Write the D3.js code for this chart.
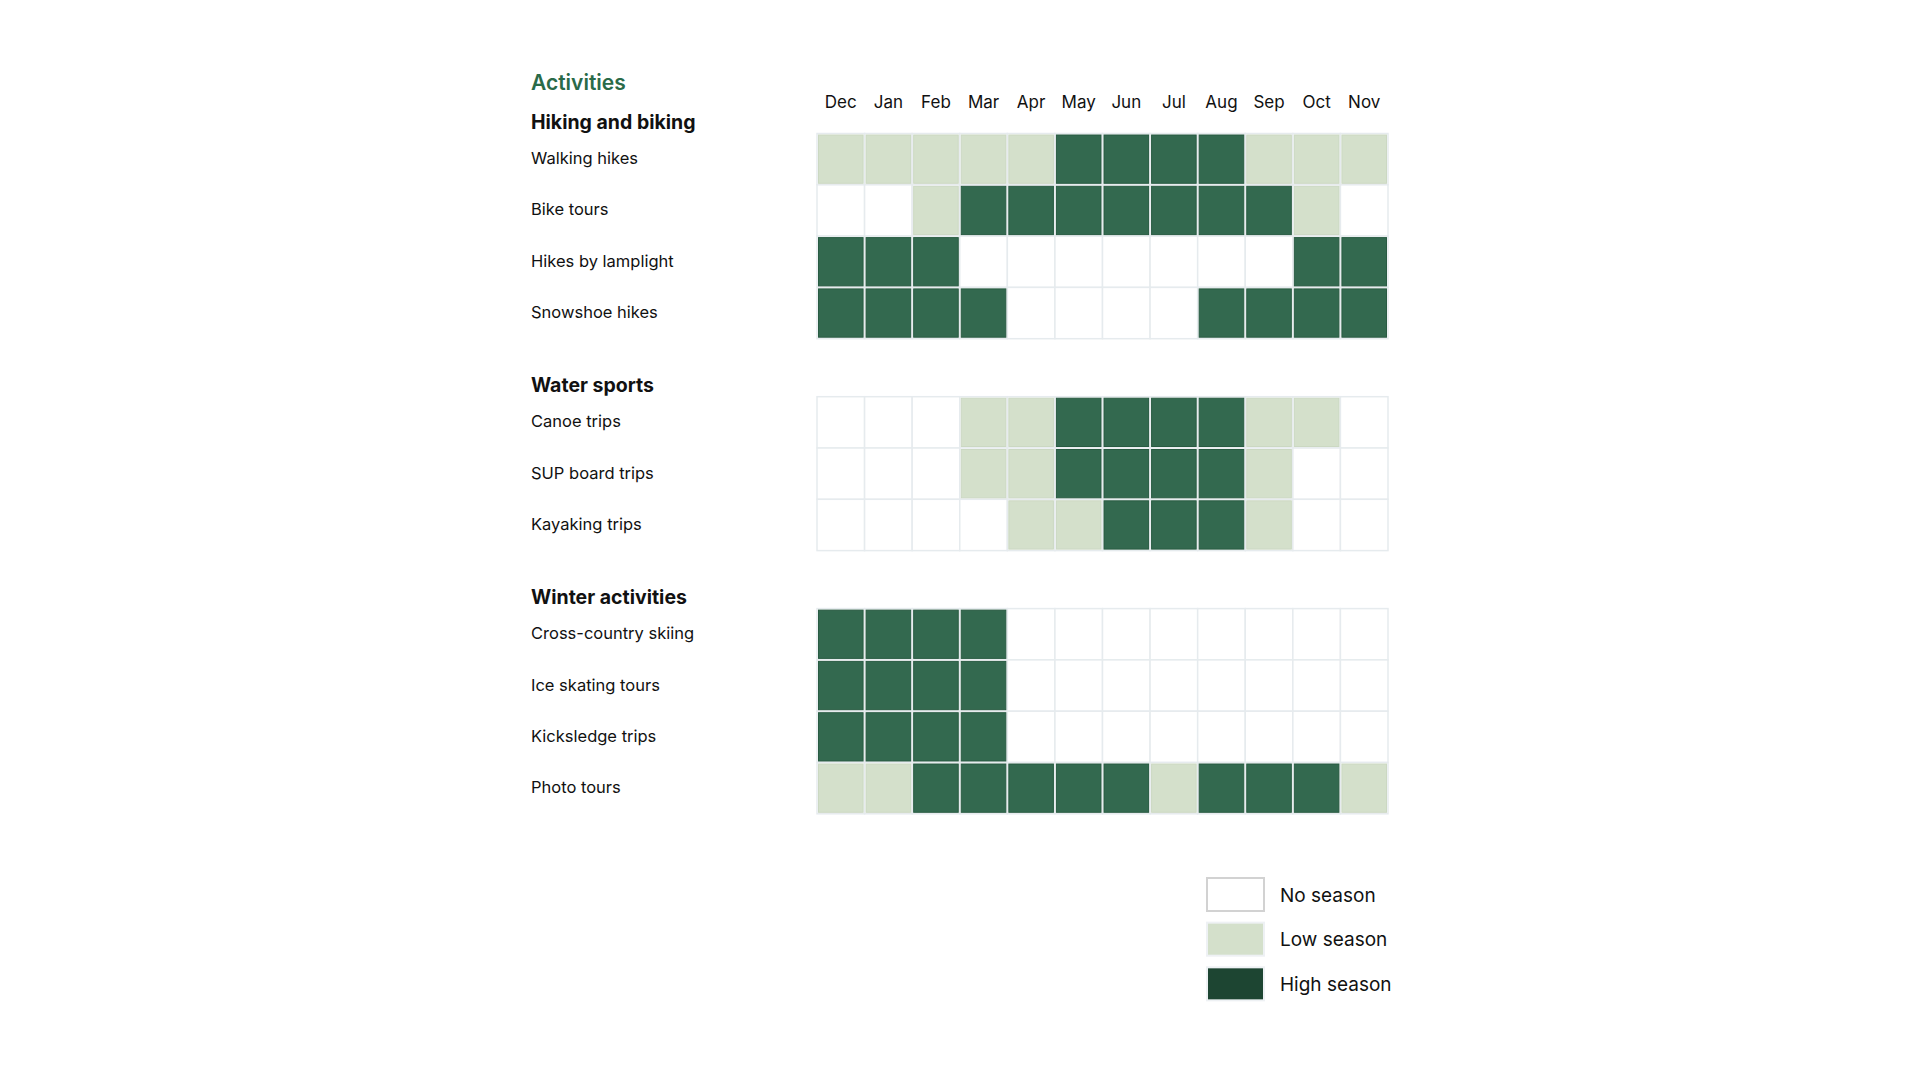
<!DOCTYPE html>
<html>
<head>
<meta charset="utf-8">
<script src="https://cdn.jsdelivr.net/npm/d3@7"></script>
<style>
  html, body { margin: 0; padding: 0; background: #fff; }
  svg { display: block; font-family: Inter, "Noto Sans", sans-serif; }
</style>
</head>
<body>
<svg id="chart" width="1920" height="1080"></svg>
<script>
// months, Dec first like the source
const months = ['Dec', 'Jan', 'Feb', 'Mar', 'Apr', 'May', 'Jun', 'Jul', 'Aug', 'Sep', 'Oct', 'Nov'];

// 0 = no season, 1 = low season, 2 = high season
const groupNames = ['Hiking and biking', 'Water sports', 'Winter activities'];

const hikingActivities = ['Walking hikes', 'Bike tours', 'Hikes by lamplight', 'Snowshoe hikes'];
const hikingValues = [
  [1, 1, 1, 1, 1, 2, 2, 2, 2, 1, 1, 1],
  [0, 0, 1, 2, 2, 2, 2, 2, 2, 2, 1, 0],
  [2, 2, 2, 0, 0, 0, 0, 0, 0, 0, 2, 2],
  [2, 2, 2, 2, 0, 0, 0, 0, 2, 2, 2, 2],
];

const waterActivities = ['Canoe trips', 'SUP board trips', 'Kayaking trips'];
const waterValues = [
  [0, 0, 0, 1, 1, 2, 2, 2, 2, 1, 1, 0],
  [0, 0, 0, 1, 1, 2, 2, 2, 2, 1, 0, 0],
  [0, 0, 0, 0, 1, 1, 2, 2, 2, 1, 0, 0],
];

const winterActivities = ['Cross-country skiing', 'Ice skating tours', 'Kicksledge trips', 'Photo tours'];
const winterValues = [
  [2, 2, 2, 2, 0, 0, 0, 0, 0, 0, 0, 0],
  [2, 2, 2, 2, 0, 0, 0, 0, 0, 0, 0, 0],
  [2, 2, 2, 2, 0, 0, 0, 0, 0, 0, 0, 0],
  [1, 1, 2, 2, 2, 2, 2, 1, 2, 2, 2, 1],
];

const seasonLabels = ['No season', 'Low season', 'High season'];

const groups = [
  { name: groupNames[0], activities: hikingActivities, values: hikingValues },
  { name: groupNames[1], activities: waterActivities, values: waterValues },
  { name: groupNames[2], activities: winterActivities, values: winterValues },
];

const cellFill = d3.scaleOrdinal().domain([0, 1, 2]).range(['#ffffff', '#d4e0cb', '#33694f']);
const cellEdge = d3.scaleOrdinal().domain([0, 1, 2]).range(['#ffffff', '#cbd8c2', '#285b42']);
const legendFill = d3.scaleOrdinal().domain([0, 1, 2]).range(['#ffffff', '#d4e0cb', '#1d4532']);
const legendStroke = d3.scaleOrdinal().domain([0, 1, 2]).range(['#d2d2d2', '#eef1f4', '#eef1f4']);

const svg = d3.select('#chart');

const labelX = 531;
const gridLeft = 817;
const gridRight = 1388;
const rowH = 51.3;
const groupGap = 58;
const firstTop = 133.5;

const x = d3.scaleBand().domain(months).range([gridLeft, gridRight]);

// title
svg.append('text')
  .attr('x', labelX)
  .attr('y', 90)
  .attr('fill', '#2a6a48')
  .style('font-size', '21px')
  .style('font-weight', 600)
  .text('Activities');

// month header
svg.append('g')
  .selectAll('text')
  .data(months)
  .join('text')
  .attr('x', d => x(d) + x.bandwidth() / 2)
  .attr('y', 102)
  .attr('text-anchor', 'middle')
  .attr('dominant-baseline', 'central')
  .attr('fill', '#111')
  .style('font-size', '17px')
  .text(d => d);

let groupTop = firstTop;
groups.forEach(group => {
  const y = d3.scaleBand()
    .domain(group.activities)
    .range([groupTop, groupTop + group.activities.length * rowH]);

  const g = svg.append('g');

  g.append('text')
    .attr('x', labelX)
    .attr('y', groupTop - 5)
    .attr('fill', '#111')
    .style('font-size', '19.5px')
    .style('font-weight', 700)
    .text(group.name);

  g.append('g')
    .selectAll('text')
    .data(group.activities)
    .join('text')
    .attr('x', labelX)
    .attr('y', d => y(d) + y.bandwidth() / 2 - 1)
    .attr('dominant-baseline', 'central')
    .attr('fill', '#111')
    .style('font-size', '16.5px')
    .text(d => d);

  const cells = [];
  group.values.forEach((row, r) => {
    row.forEach((v, c) => cells.push({ activity: group.activities[r], month: months[c], value: v }));
  });

  // light grid behind
  g.append('g')
    .selectAll('rect')
    .data(cells)
    .join('rect')
    .attr('x', d => x(d.month))
    .attr('y', d => y(d.activity))
    .attr('width', x.bandwidth())
    .attr('height', y.bandwidth())
    .attr('fill', '#fff')
    .attr('stroke', '#e6ebee')
    .attr('stroke-width', 1.5);

  g.append('g')
    .selectAll('rect')
    .data(cells.filter(d => d.value > 0))
    .join('rect')
    .attr('x', d => x(d.month) + 1.5)
    .attr('y', d => y(d.activity) + 1.5)
    .attr('width', x.bandwidth() - 3)
    .attr('height', y.bandwidth() - 3)
    .attr('fill', d => cellFill(d.value))
    .attr('stroke', d => cellEdge(d.value))
    .attr('stroke-width', 1);

  groupTop += group.activities.length * rowH + groupGap;
});

// legend
const legendY = d3.scaleBand().domain(seasonLabels).range([876, 1010]);
const legend = svg.append('g');
const items = legend.selectAll('g')
  .data(seasonLabels)
  .join('g')
  .attr('transform', d => `translate(1206,${legendY(d)})`);

items.append('rect')
  .attr('x', 1)
  .attr('y', 2)
  .attr('width', 57)
  .attr('height', 33)
  .attr('fill', (d, i) => legendFill(i))
  .attr('stroke', (d, i) => legendStroke(i))
  .attr('stroke-width', 2);

items.append('text')
  .attr('x', 74)
  .attr('y', 19)
  .attr('dominant-baseline', 'central')
  .attr('fill', '#111')
  .style('font-size', '19px')
  .text(d => d);
</script>
</body>
</html>
